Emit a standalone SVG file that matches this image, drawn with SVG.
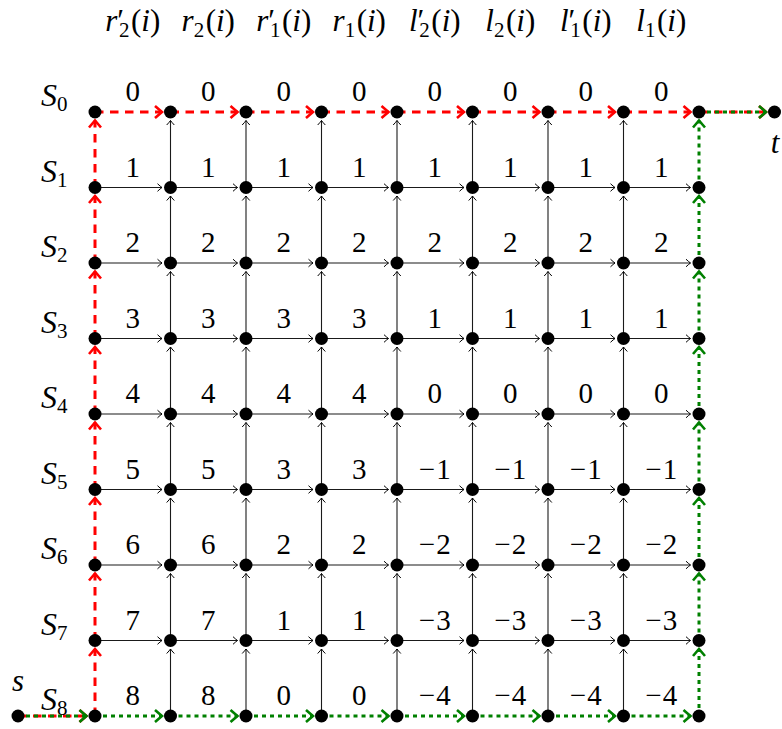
<svg xmlns="http://www.w3.org/2000/svg" width="782" height="729" viewBox="0 0 782 729" font-family="'Liberation Serif', 'DejaVu Serif', serif">
<style>
text{font-family:"Liberation Serif","DejaVu Serif",serif;font-size:29px;fill:#000}
.w{text-anchor:middle}
.it{font-style:italic}
.hd{font-size:31px}
.rl{font-size:32px}
.sub{font-size:21px}
.blk{stroke:#1a1a1a;stroke-width:1.1;fill:none}
.red{stroke:#ff0000;stroke-width:3;stroke-dasharray:8.5 6.5;fill:none}
.grn{stroke:#008000;stroke-width:3;stroke-dasharray:4 4;fill:none}
circle{fill:#000}
</style>
<defs>
<marker id="ab" markerUnits="userSpaceOnUse" markerWidth="14" markerHeight="14" viewBox="-7 -7 14 14" refX="0" refY="0" orient="auto" overflow="visible"><path d="M-4.5,-3.8 Q-1.5,-1 0,0 Q-1.5,1 -4.5,3.8" fill="none" stroke="#000" stroke-width="1"/></marker>
<marker id="ar" markerUnits="userSpaceOnUse" markerWidth="20" markerHeight="20" viewBox="-10 -10 20 20" refX="0" refY="0" orient="auto" overflow="visible"><path d="M-7,-6 L0,0 L-7,6" fill="none" stroke="#ff0000" stroke-width="2.6"/></marker>
<marker id="ag" markerUnits="userSpaceOnUse" markerWidth="20" markerHeight="20" viewBox="-10 -10 20 20" refX="0" refY="0" orient="auto" overflow="visible"><path d="M-7,-6 L0,0 L-7,6" fill="none" stroke="#008000" stroke-width="2.6"/></marker>
<line id="h" x1="0" y1="0" x2="67" y2="0" class="blk" marker-end="url(#ab)"/>
<line id="v" x1="0" y1="0" x2="0" y2="-67" class="blk" marker-end="url(#ab)"/>
<line id="rh" x1="0" y1="0" x2="67" y2="0" class="red" marker-end="url(#ar)"/>
<line id="rv" x1="0" y1="0" x2="0" y2="-67" class="red" marker-end="url(#ar)"/>
<line id="gh" x1="0" y1="0" x2="67" y2="0" class="grn" marker-end="url(#ag)"/>
<line id="gv" x1="0" y1="0" x2="0" y2="-67" class="grn" marker-end="url(#ag)"/>
</defs>

<g id="connectors">
<g id="black-horizontal">
<use href="#h" x="95" y="187.5"/><use href="#h" x="170.5" y="187.5"/><use href="#h" x="246" y="187.5"/><use href="#h" x="321.5" y="187.5"/><use href="#h" x="397" y="187.5"/><use href="#h" x="472.5" y="187.5"/><use href="#h" x="548" y="187.5"/><use href="#h" x="623.5" y="187.5"/>
<use href="#h" x="95" y="263"/><use href="#h" x="170.5" y="263"/><use href="#h" x="246" y="263"/><use href="#h" x="321.5" y="263"/><use href="#h" x="397" y="263"/><use href="#h" x="472.5" y="263"/><use href="#h" x="548" y="263"/><use href="#h" x="623.5" y="263"/>
<use href="#h" x="95" y="338.5"/><use href="#h" x="170.5" y="338.5"/><use href="#h" x="246" y="338.5"/><use href="#h" x="321.5" y="338.5"/><use href="#h" x="397" y="338.5"/><use href="#h" x="472.5" y="338.5"/><use href="#h" x="548" y="338.5"/><use href="#h" x="623.5" y="338.5"/>
<use href="#h" x="95" y="414"/><use href="#h" x="170.5" y="414"/><use href="#h" x="246" y="414"/><use href="#h" x="321.5" y="414"/><use href="#h" x="397" y="414"/><use href="#h" x="472.5" y="414"/><use href="#h" x="548" y="414"/><use href="#h" x="623.5" y="414"/>
<use href="#h" x="95" y="489.5"/><use href="#h" x="170.5" y="489.5"/><use href="#h" x="246" y="489.5"/><use href="#h" x="321.5" y="489.5"/><use href="#h" x="397" y="489.5"/><use href="#h" x="472.5" y="489.5"/><use href="#h" x="548" y="489.5"/><use href="#h" x="623.5" y="489.5"/>
<use href="#h" x="95" y="565"/><use href="#h" x="170.5" y="565"/><use href="#h" x="246" y="565"/><use href="#h" x="321.5" y="565"/><use href="#h" x="397" y="565"/><use href="#h" x="472.5" y="565"/><use href="#h" x="548" y="565"/><use href="#h" x="623.5" y="565"/>
<use href="#h" x="95" y="640.5"/><use href="#h" x="170.5" y="640.5"/><use href="#h" x="246" y="640.5"/><use href="#h" x="321.5" y="640.5"/><use href="#h" x="397" y="640.5"/><use href="#h" x="472.5" y="640.5"/><use href="#h" x="548" y="640.5"/><use href="#h" x="623.5" y="640.5"/>
</g>
<g id="black-vertical">
<use href="#v" x="170.5" y="187.5"/><use href="#v" x="170.5" y="263"/><use href="#v" x="170.5" y="338.5"/><use href="#v" x="170.5" y="414"/><use href="#v" x="170.5" y="489.5"/><use href="#v" x="170.5" y="565"/><use href="#v" x="170.5" y="640.5"/><use href="#v" x="170.5" y="716"/>
<use href="#v" x="246" y="187.5"/><use href="#v" x="246" y="263"/><use href="#v" x="246" y="338.5"/><use href="#v" x="246" y="414"/><use href="#v" x="246" y="489.5"/><use href="#v" x="246" y="565"/><use href="#v" x="246" y="640.5"/><use href="#v" x="246" y="716"/>
<use href="#v" x="321.5" y="187.5"/><use href="#v" x="321.5" y="263"/><use href="#v" x="321.5" y="338.5"/><use href="#v" x="321.5" y="414"/><use href="#v" x="321.5" y="489.5"/><use href="#v" x="321.5" y="565"/><use href="#v" x="321.5" y="640.5"/><use href="#v" x="321.5" y="716"/>
<use href="#v" x="397" y="187.5"/><use href="#v" x="397" y="263"/><use href="#v" x="397" y="338.5"/><use href="#v" x="397" y="414"/><use href="#v" x="397" y="489.5"/><use href="#v" x="397" y="565"/><use href="#v" x="397" y="640.5"/><use href="#v" x="397" y="716"/>
<use href="#v" x="472.5" y="187.5"/><use href="#v" x="472.5" y="263"/><use href="#v" x="472.5" y="338.5"/><use href="#v" x="472.5" y="414"/><use href="#v" x="472.5" y="489.5"/><use href="#v" x="472.5" y="565"/><use href="#v" x="472.5" y="640.5"/><use href="#v" x="472.5" y="716"/>
<use href="#v" x="548" y="187.5"/><use href="#v" x="548" y="263"/><use href="#v" x="548" y="338.5"/><use href="#v" x="548" y="414"/><use href="#v" x="548" y="489.5"/><use href="#v" x="548" y="565"/><use href="#v" x="548" y="640.5"/><use href="#v" x="548" y="716"/>
<use href="#v" x="623.5" y="187.5"/><use href="#v" x="623.5" y="263"/><use href="#v" x="623.5" y="338.5"/><use href="#v" x="623.5" y="414"/><use href="#v" x="623.5" y="489.5"/><use href="#v" x="623.5" y="565"/><use href="#v" x="623.5" y="640.5"/><use href="#v" x="623.5" y="716"/>
</g>
<g id="red-path">
<line x1="18" y1="716" x2="86.5" y2="716" class="red" marker-end="url(#ar)"/>
<use href="#rv" x="95" y="187.5"/><use href="#rv" x="95" y="263"/><use href="#rv" x="95" y="338.5"/><use href="#rv" x="95" y="414"/><use href="#rv" x="95" y="489.5"/><use href="#rv" x="95" y="565"/><use href="#rv" x="95" y="640.5"/><use href="#rv" x="95" y="716"/>
<use href="#rh" x="95" y="112"/><use href="#rh" x="170.5" y="112"/><use href="#rh" x="246" y="112"/><use href="#rh" x="321.5" y="112"/><use href="#rh" x="397" y="112"/><use href="#rh" x="472.5" y="112"/><use href="#rh" x="548" y="112"/><use href="#rh" x="623.5" y="112"/>
<line x1="699" y1="112" x2="766" y2="112" class="red" marker-end="url(#ar)"/>
</g>
<g id="green-path">
<line x1="18" y1="716" x2="86.5" y2="716" class="grn" marker-end="url(#ag)"/>
<use href="#gh" x="95" y="716"/><use href="#gh" x="170.5" y="716"/><use href="#gh" x="246" y="716"/><use href="#gh" x="321.5" y="716"/><use href="#gh" x="397" y="716"/><use href="#gh" x="472.5" y="716"/><use href="#gh" x="548" y="716"/><use href="#gh" x="623.5" y="716"/>
<use href="#gv" x="699" y="187.5"/><use href="#gv" x="699" y="263"/><use href="#gv" x="699" y="338.5"/><use href="#gv" x="699" y="414"/><use href="#gv" x="699" y="489.5"/><use href="#gv" x="699" y="565"/><use href="#gv" x="699" y="640.5"/><use href="#gv" x="699" y="716"/>
<line x1="699" y1="112" x2="766" y2="112" class="grn" marker-end="url(#ag)"/>
</g>
</g>

<g id="nodes">
<g id="s"><circle cx="18" cy="716" r="6.5"/></g>
<g id="t"><circle cx="774.5" cy="112" r="6.5"/></g>
<g id="n0-0"><circle cx="95" cy="112" r="6.5"/></g><g id="n0-1"><circle cx="170.5" cy="112" r="6.5"/></g><g id="n0-2"><circle cx="246" cy="112" r="6.5"/></g><g id="n0-3"><circle cx="321.5" cy="112" r="6.5"/></g><g id="n0-4"><circle cx="397" cy="112" r="6.5"/></g><g id="n0-5"><circle cx="472.5" cy="112" r="6.5"/></g><g id="n0-6"><circle cx="548" cy="112" r="6.5"/></g><g id="n0-7"><circle cx="623.5" cy="112" r="6.5"/></g><g id="n0-8"><circle cx="699" cy="112" r="6.5"/></g>
<g id="n1-0"><circle cx="95" cy="187.5" r="6.5"/></g><g id="n1-1"><circle cx="170.5" cy="187.5" r="6.5"/></g><g id="n1-2"><circle cx="246" cy="187.5" r="6.5"/></g><g id="n1-3"><circle cx="321.5" cy="187.5" r="6.5"/></g><g id="n1-4"><circle cx="397" cy="187.5" r="6.5"/></g><g id="n1-5"><circle cx="472.5" cy="187.5" r="6.5"/></g><g id="n1-6"><circle cx="548" cy="187.5" r="6.5"/></g><g id="n1-7"><circle cx="623.5" cy="187.5" r="6.5"/></g><g id="n1-8"><circle cx="699" cy="187.5" r="6.5"/></g>
<g id="n2-0"><circle cx="95" cy="263" r="6.5"/></g><g id="n2-1"><circle cx="170.5" cy="263" r="6.5"/></g><g id="n2-2"><circle cx="246" cy="263" r="6.5"/></g><g id="n2-3"><circle cx="321.5" cy="263" r="6.5"/></g><g id="n2-4"><circle cx="397" cy="263" r="6.5"/></g><g id="n2-5"><circle cx="472.5" cy="263" r="6.5"/></g><g id="n2-6"><circle cx="548" cy="263" r="6.5"/></g><g id="n2-7"><circle cx="623.5" cy="263" r="6.5"/></g><g id="n2-8"><circle cx="699" cy="263" r="6.5"/></g>
<g id="n3-0"><circle cx="95" cy="338.5" r="6.5"/></g><g id="n3-1"><circle cx="170.5" cy="338.5" r="6.5"/></g><g id="n3-2"><circle cx="246" cy="338.5" r="6.5"/></g><g id="n3-3"><circle cx="321.5" cy="338.5" r="6.5"/></g><g id="n3-4"><circle cx="397" cy="338.5" r="6.5"/></g><g id="n3-5"><circle cx="472.5" cy="338.5" r="6.5"/></g><g id="n3-6"><circle cx="548" cy="338.5" r="6.5"/></g><g id="n3-7"><circle cx="623.5" cy="338.5" r="6.5"/></g><g id="n3-8"><circle cx="699" cy="338.5" r="6.5"/></g>
<g id="n4-0"><circle cx="95" cy="414" r="6.5"/></g><g id="n4-1"><circle cx="170.5" cy="414" r="6.5"/></g><g id="n4-2"><circle cx="246" cy="414" r="6.5"/></g><g id="n4-3"><circle cx="321.5" cy="414" r="6.5"/></g><g id="n4-4"><circle cx="397" cy="414" r="6.5"/></g><g id="n4-5"><circle cx="472.5" cy="414" r="6.5"/></g><g id="n4-6"><circle cx="548" cy="414" r="6.5"/></g><g id="n4-7"><circle cx="623.5" cy="414" r="6.5"/></g><g id="n4-8"><circle cx="699" cy="414" r="6.5"/></g>
<g id="n5-0"><circle cx="95" cy="489.5" r="6.5"/></g><g id="n5-1"><circle cx="170.5" cy="489.5" r="6.5"/></g><g id="n5-2"><circle cx="246" cy="489.5" r="6.5"/></g><g id="n5-3"><circle cx="321.5" cy="489.5" r="6.5"/></g><g id="n5-4"><circle cx="397" cy="489.5" r="6.5"/></g><g id="n5-5"><circle cx="472.5" cy="489.5" r="6.5"/></g><g id="n5-6"><circle cx="548" cy="489.5" r="6.5"/></g><g id="n5-7"><circle cx="623.5" cy="489.5" r="6.5"/></g><g id="n5-8"><circle cx="699" cy="489.5" r="6.5"/></g>
<g id="n6-0"><circle cx="95" cy="565" r="6.5"/></g><g id="n6-1"><circle cx="170.5" cy="565" r="6.5"/></g><g id="n6-2"><circle cx="246" cy="565" r="6.5"/></g><g id="n6-3"><circle cx="321.5" cy="565" r="6.5"/></g><g id="n6-4"><circle cx="397" cy="565" r="6.5"/></g><g id="n6-5"><circle cx="472.5" cy="565" r="6.5"/></g><g id="n6-6"><circle cx="548" cy="565" r="6.5"/></g><g id="n6-7"><circle cx="623.5" cy="565" r="6.5"/></g><g id="n6-8"><circle cx="699" cy="565" r="6.5"/></g>
<g id="n7-0"><circle cx="95" cy="640.5" r="6.5"/></g><g id="n7-1"><circle cx="170.5" cy="640.5" r="6.5"/></g><g id="n7-2"><circle cx="246" cy="640.5" r="6.5"/></g><g id="n7-3"><circle cx="321.5" cy="640.5" r="6.5"/></g><g id="n7-4"><circle cx="397" cy="640.5" r="6.5"/></g><g id="n7-5"><circle cx="472.5" cy="640.5" r="6.5"/></g><g id="n7-6"><circle cx="548" cy="640.5" r="6.5"/></g><g id="n7-7"><circle cx="623.5" cy="640.5" r="6.5"/></g><g id="n7-8"><circle cx="699" cy="640.5" r="6.5"/></g>
<g id="n8-0"><circle cx="95" cy="716" r="6.5"/></g><g id="n8-1"><circle cx="170.5" cy="716" r="6.5"/></g><g id="n8-2"><circle cx="246" cy="716" r="6.5"/></g><g id="n8-3"><circle cx="321.5" cy="716" r="6.5"/></g><g id="n8-4"><circle cx="397" cy="716" r="6.5"/></g><g id="n8-5"><circle cx="472.5" cy="716" r="6.5"/></g><g id="n8-6"><circle cx="548" cy="716" r="6.5"/></g><g id="n8-7"><circle cx="623.5" cy="716" r="6.5"/></g><g id="n8-8"><circle cx="699" cy="716" r="6.5"/></g>
</g>

<g id="headers">
<text x="132.75" y="31" class="w hd"><tspan class="it">r</tspan><tspan>′</tspan><tspan class="sub" dx="-5" dy="6">2</tspan><tspan dy="-6" dx="1.5">(</tspan><tspan class="it">i</tspan>)</text>
<text x="208.25" y="31" class="w hd"><tspan class="it">r</tspan><tspan class="sub" dy="6">2</tspan><tspan dy="-6" dx="1.5">(</tspan><tspan class="it">i</tspan>)</text>
<text x="283.75" y="31" class="w hd"><tspan class="it">r</tspan><tspan>′</tspan><tspan class="sub" dx="-5" dy="6">1</tspan><tspan dy="-6" dx="1.5">(</tspan><tspan class="it">i</tspan>)</text>
<text x="359.25" y="31" class="w hd"><tspan class="it">r</tspan><tspan class="sub" dy="6">1</tspan><tspan dy="-6" dx="1.5">(</tspan><tspan class="it">i</tspan>)</text>
<text x="434.75" y="31" class="w hd"><tspan class="it">l</tspan><tspan>′</tspan><tspan class="sub" dx="-5" dy="6">2</tspan><tspan dy="-6" dx="1.5">(</tspan><tspan class="it">i</tspan>)</text>
<text x="510.25" y="31" class="w hd"><tspan class="it">l</tspan><tspan class="sub" dy="6">2</tspan><tspan dy="-6" dx="1.5">(</tspan><tspan class="it">i</tspan>)</text>
<text x="585.75" y="31" class="w hd"><tspan class="it">l</tspan><tspan>′</tspan><tspan class="sub" dx="-5" dy="6">1</tspan><tspan dy="-6" dx="1.5">(</tspan><tspan class="it">i</tspan>)</text>
<text x="661.25" y="31" class="w hd"><tspan class="it">l</tspan><tspan class="sub" dy="6">1</tspan><tspan dy="-6" dx="1.5">(</tspan><tspan class="it">i</tspan>)</text>
</g>

<g id="row-labels">
<text x="41" y="106" class="rl"><tspan class="it">S</tspan><tspan class="sub" dy="5">0</tspan></text>
<text x="41" y="181.5" class="rl"><tspan class="it">S</tspan><tspan class="sub" dy="5">1</tspan></text>
<text x="41" y="257" class="rl"><tspan class="it">S</tspan><tspan class="sub" dy="5">2</tspan></text>
<text x="41" y="332.5" class="rl"><tspan class="it">S</tspan><tspan class="sub" dy="5">3</tspan></text>
<text x="41" y="408" class="rl"><tspan class="it">S</tspan><tspan class="sub" dy="5">4</tspan></text>
<text x="41" y="483.5" class="rl"><tspan class="it">S</tspan><tspan class="sub" dy="5">5</tspan></text>
<text x="41" y="559" class="rl"><tspan class="it">S</tspan><tspan class="sub" dy="5">6</tspan></text>
<text x="41" y="634.5" class="rl"><tspan class="it">S</tspan><tspan class="sub" dy="5">7</tspan></text>
<text x="41" y="710" class="rl"><tspan class="it">S</tspan><tspan class="sub" dy="5">8</tspan></text>
<text x="18" y="691" class="w it hd">s</text>
<text x="775" y="153" class="w it hd">t</text>
</g>

<g id="weights">
<text x="132.75" y="101" class="w">0</text><text x="208.25" y="101" class="w">0</text><text x="283.75" y="101" class="w">0</text><text x="359.25" y="101" class="w">0</text><text x="434.75" y="101" class="w">0</text><text x="510.25" y="101" class="w">0</text><text x="585.75" y="101" class="w">0</text><text x="661.25" y="101" class="w">0</text>
<text x="132.75" y="176.5" class="w">1</text><text x="208.25" y="176.5" class="w">1</text><text x="283.75" y="176.5" class="w">1</text><text x="359.25" y="176.5" class="w">1</text><text x="434.75" y="176.5" class="w">1</text><text x="510.25" y="176.5" class="w">1</text><text x="585.75" y="176.5" class="w">1</text><text x="661.25" y="176.5" class="w">1</text>
<text x="132.75" y="252" class="w">2</text><text x="208.25" y="252" class="w">2</text><text x="283.75" y="252" class="w">2</text><text x="359.25" y="252" class="w">2</text><text x="434.75" y="252" class="w">2</text><text x="510.25" y="252" class="w">2</text><text x="585.75" y="252" class="w">2</text><text x="661.25" y="252" class="w">2</text>
<text x="132.75" y="327.5" class="w">3</text><text x="208.25" y="327.5" class="w">3</text><text x="283.75" y="327.5" class="w">3</text><text x="359.25" y="327.5" class="w">3</text><text x="434.75" y="327.5" class="w">1</text><text x="510.25" y="327.5" class="w">1</text><text x="585.75" y="327.5" class="w">1</text><text x="661.25" y="327.5" class="w">1</text>
<text x="132.75" y="403" class="w">4</text><text x="208.25" y="403" class="w">4</text><text x="283.75" y="403" class="w">4</text><text x="359.25" y="403" class="w">4</text><text x="434.75" y="403" class="w">0</text><text x="510.25" y="403" class="w">0</text><text x="585.75" y="403" class="w">0</text><text x="661.25" y="403" class="w">0</text>
<text x="132.75" y="478.5" class="w">5</text><text x="208.25" y="478.5" class="w">5</text><text x="283.75" y="478.5" class="w">3</text><text x="359.25" y="478.5" class="w">3</text><text x="434.75" y="478.5" class="w">−<tspan dx="1">1</tspan></text><text x="510.25" y="478.5" class="w">−<tspan dx="1">1</tspan></text><text x="585.75" y="478.5" class="w">−<tspan dx="1">1</tspan></text><text x="661.25" y="478.5" class="w">−<tspan dx="1">1</tspan></text>
<text x="132.75" y="554" class="w">6</text><text x="208.25" y="554" class="w">6</text><text x="283.75" y="554" class="w">2</text><text x="359.25" y="554" class="w">2</text><text x="434.75" y="554" class="w">−<tspan dx="1">2</tspan></text><text x="510.25" y="554" class="w">−<tspan dx="1">2</tspan></text><text x="585.75" y="554" class="w">−<tspan dx="1">2</tspan></text><text x="661.25" y="554" class="w">−<tspan dx="1">2</tspan></text>
<text x="132.75" y="629.5" class="w">7</text><text x="208.25" y="629.5" class="w">7</text><text x="283.75" y="629.5" class="w">1</text><text x="359.25" y="629.5" class="w">1</text><text x="434.75" y="629.5" class="w">−<tspan dx="1">3</tspan></text><text x="510.25" y="629.5" class="w">−<tspan dx="1">3</tspan></text><text x="585.75" y="629.5" class="w">−<tspan dx="1">3</tspan></text><text x="661.25" y="629.5" class="w">−<tspan dx="1">3</tspan></text>
<text x="132.75" y="705" class="w">8</text><text x="208.25" y="705" class="w">8</text><text x="283.75" y="705" class="w">0</text><text x="359.25" y="705" class="w">0</text><text x="434.75" y="705" class="w">−<tspan dx="1">4</tspan></text><text x="510.25" y="705" class="w">−<tspan dx="1">4</tspan></text><text x="585.75" y="705" class="w">−<tspan dx="1">4</tspan></text><text x="661.25" y="705" class="w">−<tspan dx="1">4</tspan></text>
</g>
</svg>
